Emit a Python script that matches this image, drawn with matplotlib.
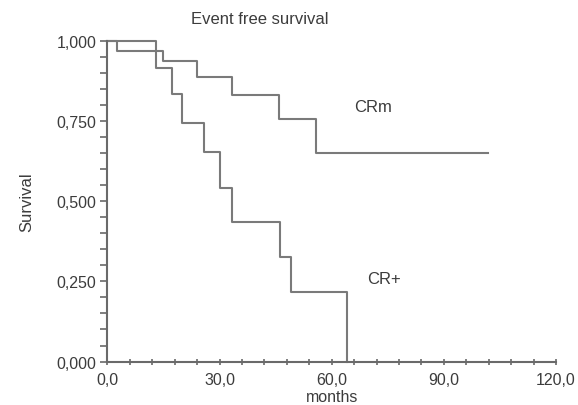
import matplotlib
matplotlib.use("Agg")
import matplotlib.pyplot as plt
from matplotlib.ticker import MultipleLocator, FuncFormatter

plt.rcParams['font.family'] = ['Liberation Sans', 'DejaVu Sans']

# Kaplan-Meier step data (time in months, survival after each event)
crm_times = [0.0, 2.5, 15.0, 23.9, 33.3, 45.9, 55.8]
crm_surv = [1.000, 0.971, 0.9375, 0.888, 0.833, 0.757, 0.651]
crm_end = 101.8

crp_times = [0.0, 13.0, 17.4, 20.1, 25.9, 30.1, 33.3, 46.2, 49.1, 64.0]
crp_surv = [1.000, 0.917, 0.836, 0.745, 0.654, 0.542, 0.437, 0.326, 0.217, 0.0]
crp_end = 64.0

x_ticks = [0, 30, 60, 90, 120]
y_ticks = [0.0, 0.25, 0.5, 0.75, 1.0]

line_col = '#7a7a7a'
text_col = '#3c3c3c'
axis_col = '#6a6a6a'

fig = plt.figure(figsize=(5.78, 4.06), dpi=100)
ax = fig.add_axes([0.1857, 0.1071, 0.7763, 0.7887])

ax.step(crm_times + [crm_end], crm_surv + [crm_surv[-1]], where='post',
        color=line_col, lw=1.5, clip_on=False)
ax.step(crp_times + [crp_end], crp_surv + [crp_surv[-1]], where='post',
        color=line_col, lw=1.5, clip_on=False)

ax.set_xlim(0, 120)
ax.set_ylim(0, 1)

for s in ['top', 'right']:
    ax.spines[s].set_visible(False)
for s in ['left', 'bottom']:
    ax.spines[s].set_color(axis_col)
    ax.spines[s].set_linewidth(1.5)

ax.set_xticks(x_ticks)
ax.set_yticks(y_ticks)
ax.xaxis.set_minor_locator(MultipleLocator(6))
ax.yaxis.set_minor_locator(MultipleLocator(0.05))
ax.xaxis.set_major_formatter(FuncFormatter(lambda v, p: f"{v:.1f}".replace('.', ',')))
ax.yaxis.set_major_formatter(FuncFormatter(lambda v, p: f"{v:.3f}".replace('.', ',')))

ax.tick_params(axis='y', which='both', direction='out', length=5, width=1.2,
               color=axis_col, labelsize=11.5, labelcolor=text_col, pad=3)
ax.tick_params(axis='x', which='both', direction='inout', length=5, width=1.2,
               color=axis_col, labelsize=11.5, labelcolor=text_col, pad=5)

ax.set_ylabel('Survival', fontsize=12, color=text_col, labelpad=16)
ax.set_xlabel('months', fontsize=11.5, color=text_col, labelpad=1.5)

fig.text(260 / 578, 1 - 20 / 406, 'Event free survival', fontsize=12,
         color=text_col, ha='center', va='center')
ax.text(71, 0.795, 'CRm', fontsize=12, color=text_col, ha='center', va='center')
ax.text(74, 0.26, 'CR+', fontsize=12, color=text_col, ha='center', va='center')

fig.savefig('out.png', dpi=100)
